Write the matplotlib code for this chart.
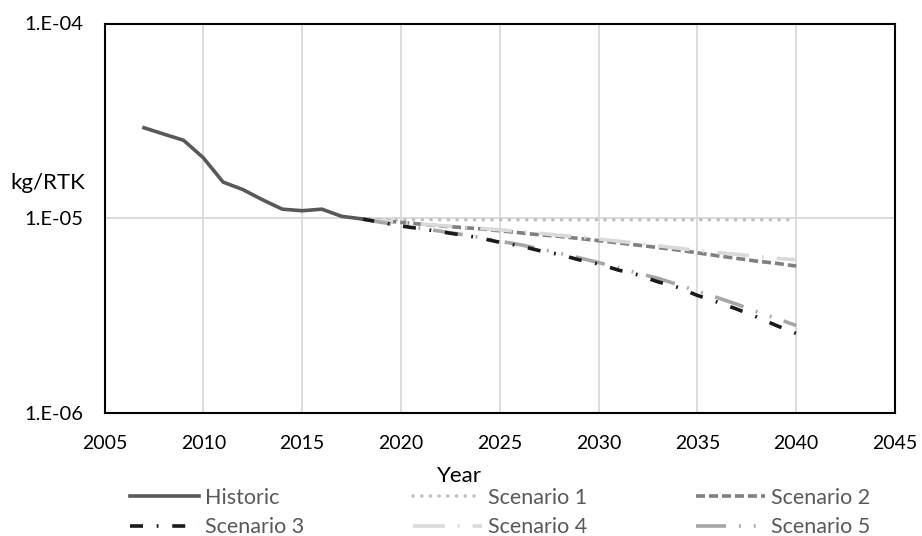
import matplotlib
matplotlib.use("Agg")
import matplotlib.pyplot as plt
from matplotlib.ticker import FixedLocator
from matplotlib.lines import Line2D

plt.rcParams['font.family'] = ['Lato', 'DejaVu Sans']

hist_years = [2007, 2008, 2009, 2010, 2011, 2012, 2013, 2014, 2015, 2016, 2017, 2018]
hist_vals = [2.91e-5, 2.70e-5, 2.51e-5, 2.04e-5, 1.53e-5, 1.40e-5, 1.24e-5, 1.11e-5, 1.09e-5, 1.11e-5, 1.02e-5, 0.99e-5]

scen_years = list(range(2018, 2041))
s1 = [9.9e-6] + [9.8e-6] * 22
s2 = [9.9, 9.7, 9.5, 9.3, 9.1, 8.95, 8.8, 8.6, 8.4, 8.2, 8.05, 7.85, 7.65, 7.45, 7.25, 7.05, 6.85, 6.62, 6.4, 6.2, 6.0, 5.85, 5.66]
s3 = [9.9, 9.5, 9.1, 8.8, 8.5, 8.2, 7.9, 7.5, 7.2, 6.8, 6.5, 6.1, 5.8, 5.4, 5.1, 4.7, 4.4, 4.0, 3.7, 3.4, 3.1, 2.8, 2.55]
s4 = [9.9, 9.7, 9.5, 9.3, 9.15, 9.0, 8.85, 8.7, 8.5, 8.35, 8.15, 8.0, 7.8, 7.6, 7.4, 7.2, 7.0, 6.8, 6.65, 6.5, 6.35, 6.2, 6.1]
s5 = [9.9, 9.5, 9.15, 8.85, 8.55, 8.25, 7.95, 7.6, 7.3, 6.95, 6.6, 6.25, 5.9, 5.55, 5.2, 4.9, 4.55, 4.2, 3.9, 3.6, 3.3, 3.05, 2.8]
s2 = [v * 1e-6 for v in s2]
s3 = [v * 1e-6 for v in s3]
s4 = [v * 1e-6 for v in s4]
s5 = [v * 1e-6 for v in s5]

x_ticks = [2005, 2010, 2015, 2020, 2025, 2030, 2035, 2040, 2045]
y_ticks = [1e-6, 1e-5, 1e-4]
y_tick_labels = ["1.E-06", "1.E-05", "1.E-04"]

W, H = 922, 536
fig = plt.figure(figsize=(W / 100, H / 100), dpi=100)
L, R, T, B = 104.5, 895, 23.5, 412.5
ax = fig.add_axes([L / W, 1 - B / H, (R - L) / W, (B - T) / H])

lw = 2.6
styles = {
    'Historic':   dict(color='#595959', linestyle='-'),
    'Scenario 1': dict(color='#BFBFBF', linestyle=(0, (0.01, 2.4)), dash_capstyle='round'),
    'Scenario 2': dict(color='#808080', linestyle=(0, (2.5, 1.1))),
    'Scenario 3': dict(color='#1A1A1A', linestyle=(0, (3.6, 3.8, 0.5, 3.8))),
    'Scenario 4': dict(color='#D9D9D9', linestyle=(0, (8.8, 3.6, 0.5, 3.6))),
    'Scenario 5': dict(color='#A6A6A6', linestyle=(0, (8.3, 3.6, 0.5, 3.6, 0.5, 3.6))),
}

ax.plot(hist_years, hist_vals, lw=lw, zorder=5, **styles['Historic'])
ax.plot(scen_years, s1, lw=lw, zorder=4, **styles['Scenario 1'])
ax.plot(scen_years, s2, lw=lw, zorder=4, **styles['Scenario 2'])
ax.plot(scen_years, s4, lw=lw, zorder=4, **styles['Scenario 4'])
ax.plot(scen_years, s5, lw=lw, zorder=4, **styles['Scenario 5'])
ax.plot(scen_years, s3, lw=lw, zorder=4, **styles['Scenario 3'])

ax.set_yscale('log')
ax.set_ylim(1e-6, 1e-4)
ax.set_xlim(2005, 2045)
ax.xaxis.set_major_locator(FixedLocator(x_ticks))
ax.set_xticklabels([str(x) for x in x_ticks])
ax.yaxis.set_major_locator(FixedLocator(y_ticks))
ax.yaxis.set_minor_locator(FixedLocator([]))
ax.set_yticklabels(y_tick_labels)
ax.grid(True, which='major', color='#D9D9D9', lw=1.3, zorder=0)
ax.set_axisbelow(True)
for s in ax.spines.values():
    s.set_color('black')
    s.set_linewidth(1.5)
ax.tick_params(length=0, labelsize=14, colors='black')
ax.tick_params(axis='x', pad=16)
ax.tick_params(axis='y', pad=15, labelsize=14.5)

fig.text(47.5 / W, 1 - 183 / H, 'kg/RTK', fontsize=16, ha='center', va='center')
fig.text(459 / W, 1 - 476 / H, 'Year', fontsize=16, ha='center', va='center')

legend_cols = [(130, ['Historic', 'Scenario 3']),
               (413, ['Scenario 1', 'Scenario 4']),
               (696, ['Scenario 2', 'Scenario 5'])]
fs_leg = 15.5
for xs, names in legend_cols:
    hs = [Line2D([], [], lw=lw, **styles[n]) for n in names]
    leg = fig.legend(hs, names, loc='center left', bbox_to_anchor=(xs / W, 1 - 512.5 / H),
                     frameon=False, fontsize=fs_leg, handlelength=3.2, handletextpad=0.3,
                     borderpad=0, borderaxespad=0, labelspacing=0.45)
    for t in leg.get_texts():
        t.set_color('#595959')

fig.savefig('out.png', dpi=100)
